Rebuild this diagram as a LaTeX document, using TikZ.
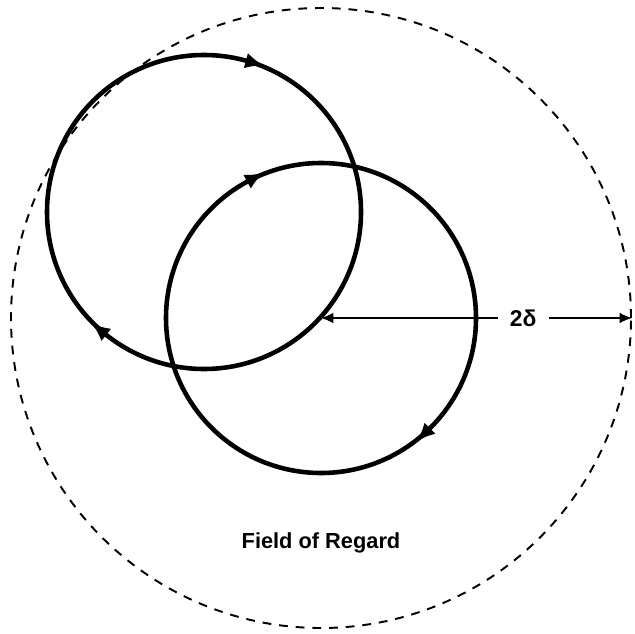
\documentclass[tikz,border=0pt]{standalone}
\usepackage{fontspec}
\setmainfont{Liberation Sans}
\usetikzlibrary{arrows.meta,decorations.markings}
\begin{document}
\begin{tikzpicture}[>={Latex[length=11pt,width=9pt]},
  orbit/.style={line width=2.6pt},
  flow/.style={postaction={decorate,decoration={markings,
    mark=at position #1 with {\arrow{<}}}}}]
  \useasboundingbox (0,0) rectangle (12.7,12.66);
  \node[circle, draw, dash pattern=on 5pt off 4.5pt, line width=1.1pt,
        minimum size=12.4cm, inner sep=0pt] (regard) at (6.42,6.30) {};
  \draw[orbit, flow=0.207, flow=0.643] (4.08,8.42) circle (3.14);
  \draw[orbit, flow=0.329, flow=0.874] (regard.center) circle (3.10);
  \draw[{Latex[length=7pt,width=6pt]}-{Latex[length=7pt,width=6pt]}, line width=0.8pt]
      (regard.center) -- (regard.east)
      node[pos=0.65, fill=white, inner xsep=7pt, font=\bfseries\fontsize{13}{15}\selectfont] (delta) {2δ};
  \node[font=\bfseries\fontsize{12.4}{14}\selectfont] (label) at (6.42,1.80) {Field of Regard};
\end{tikzpicture}
\end{document}
